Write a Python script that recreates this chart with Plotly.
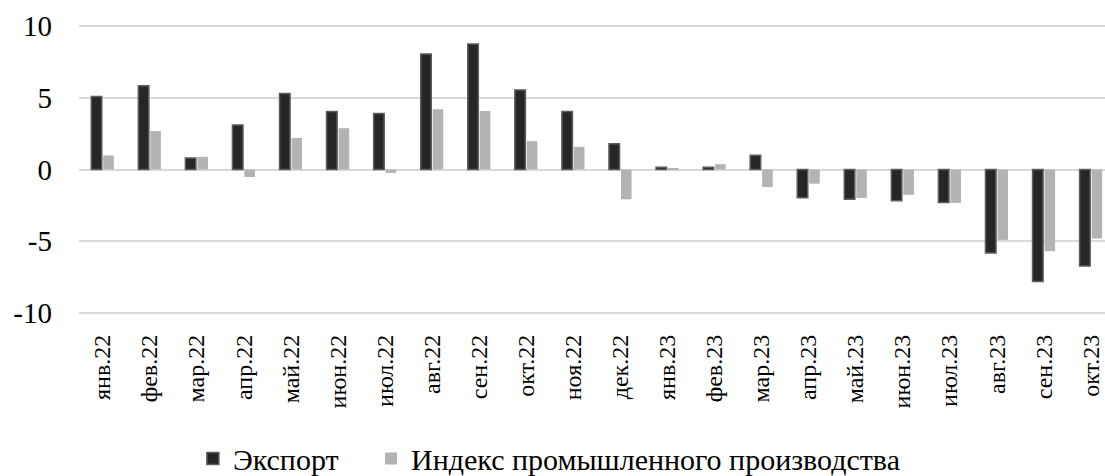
import plotly.graph_objects as go

months = ["янв.22", "фев.22", "мар.22", "апр.22", "май.22", "июн.22", "июл.22",
          "авг.22", "сен.22", "окт.22", "ноя.22", "дек.22", "янв.23", "фев.23",
          "мар.23", "апр.23", "май.23", "июн.23", "июл.23", "авг.23", "сен.23", "окт.23"]
export = [5.1, 5.85, 0.8, 3.1, 5.3, 4.05, 3.9, 8.05, 8.75, 5.55, 4.05, 1.8,
          0.15, 0.15, 1.0, -1.97, -2.08, -2.18, -2.3, -5.82, -7.82, -6.73]
industry = [0.98, 2.68, 0.88, -0.52, 2.2, 2.88, -0.24, 4.2, 4.08, 1.98, 1.58, -2.08,
            0.1, 0.37, -1.22, -0.99, -1.99, -1.76, -2.33, -4.91, -5.7, -4.81]
yticks = [-10, -5, 0, 5, 10]

font = "Liberation Serif, Times New Roman, serif"

fig = go.Figure()
fig.add_trace(go.Bar(x=months, y=export, name="Экспорт", legend="legend",
                     marker=dict(color="#262626", line=dict(color="#5e5e5e", width=1.5))))
fig.add_trace(go.Bar(x=months, y=industry, name="Индекс промышленного производства",
                     legend="legend2", marker=dict(color="#b3b3b3", line=dict(width=0))))

leg = dict(orientation="h", xanchor="left", y=-0.5, yanchor="middle",
           font=dict(size=30, family=font), itemwidth=30, bgcolor="rgba(0,0,0,0)")

fig.update_layout(
    width=1105, height=476,
    margin=dict(l=79, r=0, t=25, b=162, autoexpand=False),
    paper_bgcolor="white", plot_bgcolor="white",
    barmode="group", bargap=0.49, bargroupgap=0.12,
    font=dict(family=font, color="#000000"),
    showlegend=True,
    legend=dict(leg, x=0.111),
    legend2=dict(leg, x=0.2846),
)
fig.update_xaxes(tickangle=-90, tickfont=dict(size=24, family=font), automargin=False,
                 range=[-0.5, 21.3], showgrid=False, showline=False, ticks="",
                 ticklabelstandoff=15)
# range padded a hair so the +-10 gridlines are not clipped at the plot edge
fig.update_yaxes(range=[-10.08, 10.08], tickvals=yticks, ticktext=[str(v) for v in yticks],
                 tickfont=dict(size=29, family=font), showgrid=True, gridcolor="#d9d9d9",
                 gridwidth=1.5, zeroline=True, zerolinecolor="#d9d9d9", zerolinewidth=1.5,
                 ticklabelstandoff=26, automargin=False)

# the page body has a default 8px margin; drop it so the figure sits at the corner
fig.write_html("out.html", config={"displayModeBar": False},
               post_script="document.body.style.margin='0';")
